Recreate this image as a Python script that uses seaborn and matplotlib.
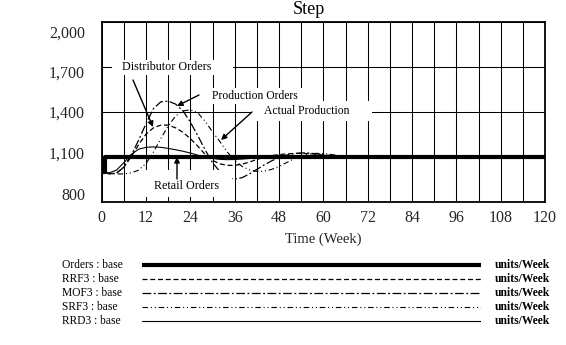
import matplotlib
matplotlib.use("Agg")
import matplotlib.pyplot as plt
import seaborn as sns
from matplotlib.patches import Rectangle
from matplotlib.transforms import ScaledTranslation, blended_transform_factory

# ---------------- data ----------------
weeks = [0, 2, 4, 6, 8, 10, 12, 14, 16, 18, 20, 22, 24, 26, 28, 30, 32, 34, 36,
         38, 40, 42, 44, 46, 48, 50, 52, 54, 56, 58, 60, 62, 64, 66, 68, 70, 120]

orders_weeks = [0, 1, 1, 120]
orders_vals = [1000, 1000, 1100, 1100]

rrf3 = [1000, 985, 990, 1030, 1100, 1180, 1250, 1292, 1310, 1310, 1292, 1262, 1220,
        1170, 1115, 1075, 1052, 1042, 1042, 1050, 1064, 1082, 1096, 1107, 1114, 1118,
        1121, 1122, 1120, 1116, 1111, 1107, 1104, 1102, 1101, 1100, 1100]

mof3 = [1000, 985, 990, 1030, 1110, 1210, 1320, 1420, 1465, 1470, 1450, 1405, 1330,
        1240, 1145, 1060, 1000, 962, 950, 960, 985, 1015, 1045, 1072, 1094, 1110,
        1120, 1125, 1124, 1119, 1112, 1107, 1103, 1101, 1100, 1100, 1100]

srf3 = [1000, 990, 985, 985, 992, 1010, 1055, 1130, 1220, 1305, 1370, 1405, 1412,
        1392, 1335, 1265, 1200, 1130, 1075, 1035, 1012, 1002, 1003, 1015, 1035, 1060,
        1085, 1105, 1117, 1122, 1120, 1115, 1108, 1104, 1101, 1100, 1100]

rrd3 = [1000, 992, 1010, 1060, 1115, 1150, 1162, 1165, 1162, 1155, 1146, 1136, 1124,
        1110, 1098, 1088, 1082, 1080, 1081, 1084, 1088, 1092, 1096, 1099, 1102, 1104,
        1105, 1105, 1104, 1103, 1102, 1101, 1100, 1100, 1100, 1100, 1100]

x_major = [0, 12, 24, 36, 48, 60, 72, 84, 96, 108, 120]
x_minor = [6, 18, 30, 42, 54, 66, 78, 90, 102, 114]
y_ticks = [800, 1100, 1400, 1700, 2000]
y_tick_labels = ["800", "1,100", "1,400", "1,700", "2,000"]

legend_names = ["Orders : base", "RRF3 : base", "MOF3 : base", "SRF3 : base", "RRD3 : base"]
units_label = "units/Week"
title = "Step"
xlabel = "Time (Week)"
annotations = ["Distributor Orders", "Production Orders", "Actual Production", "Retail Orders"]

# ---------------- style ----------------
sns.set_theme(style="white")
plt.rcParams['font.family'] = ['Liberation Serif', 'DejaVu Serif']
plt.rcParams['text.color'] = 'black'

W, H = 566, 345
fig = plt.figure(figsize=(W / 100, H / 100), dpi=100)
fig.patch.set_facecolor('white')

L, R, T, B = 101.7, 545.0, 21.5, 201.7
ax = fig.add_axes([L / W, 1 - B / H, (R - L) / W, (B - T) / H])
ax.set_facecolor('white')

XMIN, XMAX, YMIN, YMAX = 0, 120, 800, 2000


def px(x, y):
    """reference pixel -> data coordinates"""
    return ((x - L) / (R - L) * (XMAX - XMIN) + XMIN,
            YMIN + (B - y) / (B - T) * (YMAX - YMIN))


styles = [
    dict(lw=3.0, ls='-'),                                # Orders
    dict(lw=0.9, ls=(0, (4, 2.2))),                      # RRF3
    dict(lw=0.9, ls=(0, (7, 2, 1.5, 2))),                # MOF3
    dict(lw=0.8, ls=(0, (5, 2.5, 1, 2.5, 1, 2.5))),      # SRF3
    dict(lw=0.8, ls='-'),                                # RRD3
]

series = [(weeks, rrf3, styles[1]), (weeks, mof3, styles[2]),
          (weeks, srf3, styles[3]), (weeks, rrd3, styles[4])]
for xs, ys, st in series:
    sns.lineplot(x=xs, y=ys, ax=ax, color='black', linewidth=st['lw'],
                 linestyle=st['ls'], estimator=None, sort=False, zorder=3)
sns.lineplot(x=orders_weeks, y=orders_vals, ax=ax, color='black',
             linewidth=styles[0]['lw'], linestyle='-', estimator=None,
             sort=False, zorder=5, solid_capstyle='butt')

ax.set_xlim(XMIN, XMAX)
ax.set_ylim(YMIN, YMAX)
ax.set_xticks(x_major)
ax.set_xticks(x_minor, minor=True)
ax.set_xticklabels([str(v) for v in x_major], fontsize=11.5)
ax.set_yticks(y_ticks)
ax.set_yticklabels(y_tick_labels, fontsize=11.5)
ax.tick_params(axis='both', which='both', length=0)
ax.tick_params(axis='x', pad=6)
ax.tick_params(axis='y', pad=12)
ax.grid(True, axis='x', which='both', color='black', lw=0.75, zorder=1)
ax.grid(True, axis='y', which='major', color='black', lw=0.75, zorder=1)
ax.set_axisbelow(True)
for s in ax.spines.values():
    s.set_color('black')
    s.set_linewidth(1.3)
    s.set_visible(True)
ax.set_xlabel(xlabel, fontsize=10.5, labelpad=5)
ax.set_ylabel("")

# vensim-like staggering of y tick labels (pixels downward)
shifts = [-7.5, -4, 0, 5, 10]
for lab, dy in zip(ax.get_yticklabels(), shifts):
    lab.set_transform(lab.get_transform() +
                      ScaledTranslation(0, -dy / 100, fig.dpi_scale_trans))

# title
fig.text(309 / W, 1 - 13.5 / H, title, ha='center', va='baseline', fontsize=13)

# label boxes (white, hide grid) + texts + arrows
boxes = [
    ((112, 60, 233, 75), (167, 67), 8.7),
    ((205, 88, 303, 104), (255, 96), 8.4),
    ((251, 101, 372, 121), (307, 111), 8.4),
    ((144, 170, 232, 197), (187, 186), 8.7),
]
for (bx0, by0, bx1, by1), (tx, ty), fs, txt in zip(
        [b[0] for b in boxes], [b[1] for b in boxes], [b[2] for b in boxes], annotations):
    x0, y1 = px(bx0, by0)
    x1, y0 = px(bx1, by1)
    ax.add_patch(Rectangle((x0, y0), x1 - x0, y1 - y0, facecolor='white',
                           edgecolor='none', zorder=4))
    ax.text(*px(tx, ty), txt, ha='center', va='center', fontsize=fs, zorder=6)

arrows = [((133, 80), (153, 127)),
          ((199, 95), (177, 106)),
          ((252, 112), (221, 140)),
          ((177, 179), (177, 157))]
for (sx, sy), (ex, ey) in arrows:
    ax.annotate("", xy=px(ex, ey), xytext=px(sx, sy),
                arrowprops=dict(arrowstyle='-|>', color='black', lw=1.0,
                                mutation_scale=8, shrinkA=0, shrinkB=0),
                zorder=7)

# ---------------- legend block ----------------
LT, LB, LL, LR = 258.0, 327.0, 142.0, 481.0
row0, rstep = 265.0, 13.9
lax = fig.add_axes([LL / W, 1 - LB / H, (LR - LL) / W, (LB - LT) / H])
lax.set_xlim(0, 1)
lax.set_ylim((LB - row0) / rstep, -(row0 - LT) / rstep)
lax.axis('off')
for i, (name, st) in enumerate(zip(legend_names, styles)):
    sns.lineplot(x=[0, 1], y=[i, i], ax=lax, color='black', linewidth=st['lw'],
                 linestyle=st['ls'], estimator=None, sort=False)
    tr = blended_transform_factory(fig.transFigure, lax.transData)
    lax.text(61.7 / W, i, name, transform=tr, ha='left', va='center', fontsize=8.3)
    lax.text(495 / W, i, units_label, transform=tr, ha='left', va='center',
             fontsize=8.3, fontweight='bold')

fig.savefig("out.png", dpi=100, facecolor='white')
